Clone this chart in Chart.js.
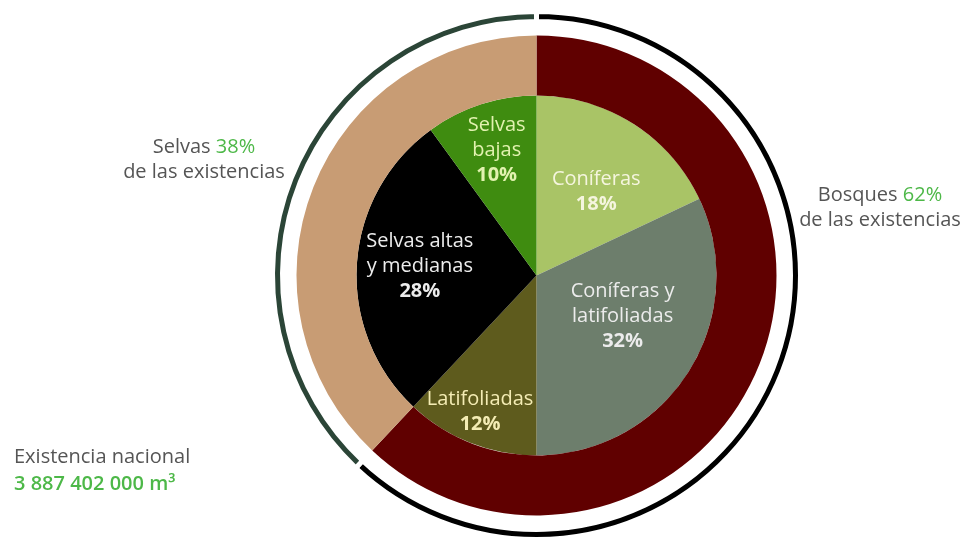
<!DOCTYPE html>
<html lang="es">
<head>
<meta charset="utf-8">
<title>Existencias maderables</title>
<script src="https://cdn.jsdelivr.net/npm/chart.js@4.4.1/dist/chart.umd.min.js"></script>
<style>
  html, body { margin: 0; padding: 0; background: #fff; }
  #wrap { position: relative; width: 964px; height: 542px; overflow: hidden; font-family: 'Open Sans', sans-serif; }
  #chart { position: absolute; left: 0; top: 0; }
  .nota { position: absolute; color: #555; font-size: 20px; line-height: 25px; white-space: nowrap; }
  .nota .verde { color: #4db848; }
</style>
</head>
<body>
<div id="wrap">
  <canvas id="chart" width="964" height="542"></canvas>
  <div class="nota" id="notaSelvas" style="left:104px; top:133px; width:200px; text-align:center;"></div>
  <div class="nota" id="notaBosques" style="left:780px; top:181px; width:200px; text-align:center;"></div>
  <div class="nota" id="notaTotal" style="left:14px; top:442px; line-height:27px;"></div>
</div>
<script>
// Grupos (anillo exterior) y tipos de vegetación (pastel interior), en %
const grupos = ['Bosques', 'Selvas'];
const gruposPct = [62, 38];
const tipos = ['Coníferas', 'Coníferas y latifoliadas', 'Latifoliadas', 'Selvas altas y medianas', 'Selvas bajas'];
const tiposLineas = [['Coníferas'], ['Coníferas y', 'latifoliadas'], ['Latifoliadas'], ['Selvas altas', 'y medianas'], ['Selvas', 'bajas']];
const tiposPct = [18, 32, 12, 28, 10];
const existenciaNacional = '3 887 402 000';

// Colores
const colGrupoBorde = ['#000000', '#2b4537'];
const colGrupo = ['#600000', '#c89c74'];
const colTipo = ['#a9c466', '#6d7e6c', '#5e5b1d', '#000000', '#3f8c10'];
const colTexto = ['#f5f5de', '#ececec', '#f4ecb4', '#ececec', '#e2f2b0'];

// Posición de cada etiqueta dentro de su rebanada (fracción del ángulo, fracción del radio)
const etiquetaAngulo = [0.55, 0.44, 0.52, 0.51, 0.51];
const etiquetaRadio = [0.57, 0.53, 0.82, 0.65, 0.73];

const etiquetas = {
    id: 'etiquetas',
    afterDatasetsDraw(chart) {
        const meta = chart.getDatasetMeta(3);
        const ctx = chart.ctx;
        const alto = 25;
        ctx.save();
        ctx.textAlign = 'center';
        ctx.textBaseline = 'middle';
        meta.data.forEach((arc, i) => {
            const { x, y, startAngle, endAngle, outerRadius } =
                arc.getProps(['x', 'y', 'startAngle', 'endAngle', 'outerRadius'], true);
            const a = startAngle + (endAngle - startAngle) * etiquetaAngulo[i];
            const r = outerRadius * etiquetaRadio[i];
            const lineas = [...tiposLineas[i], tiposPct[i] + '%'];
            const cx = x + r * Math.cos(a);
            const y0 = y + r * Math.sin(a) - (lineas.length - 1) * alto / 2;
            lineas.forEach((t, k) => {
                const esPct = k === lineas.length - 1;
                ctx.font = (esPct ? '700 ' : '400 ') + '20px "Open Sans"';
                ctx.fillStyle = colTexto[i];
                ctx.fillText(t, cx, y0 + k * alto);
            });
        });
        ctx.restore();
    }
};

new Chart(document.getElementById('chart'), {
    type: 'doughnut',
    data: {
        labels: tipos,
        datasets: [
            // arco fino exterior
            { label: 'Grupo', data: gruposPct, backgroundColor: colGrupoBorde, borderColor: '#fff', borderWidth: 5, weight: 10 },
            // separación
            { label: 'Espacio', data: gruposPct, backgroundColor: 'rgba(0,0,0,0)', borderWidth: 0, weight: 14 },
            // anillo de grupos
            { label: 'Grupos', data: gruposPct, backgroundColor: colGrupo, borderWidth: 0, weight: 60 },
            // pastel de tipos
            { label: 'Tipos', data: tiposPct, backgroundColor: colTipo, borderWidth: 0, weight: 180 }
        ]
    },
    options: {
        responsive: false,
        animation: false,
        events: [],
        cutout: 0,
        layout: { padding: { left: 270, top: 9, right: 161, bottom: 0 } },
        plugins: { legend: { display: false }, tooltip: { enabled: false } }
    },
    plugins: [etiquetas]
});

document.getElementById('notaSelvas').innerHTML =
    grupos[1] + ' <span class="verde">' + gruposPct[1] + '%</span><br>de las existencias';
document.getElementById('notaBosques').innerHTML =
    grupos[0] + ' <span class="verde">' + gruposPct[0] + '%</span><br>de las existencias';
document.getElementById('notaTotal').innerHTML =
    'Existencia nacional<br><span class="verde" style="font-weight:600">' + existenciaNacional + ' m³</span>';
</script>
</body>
</html>
